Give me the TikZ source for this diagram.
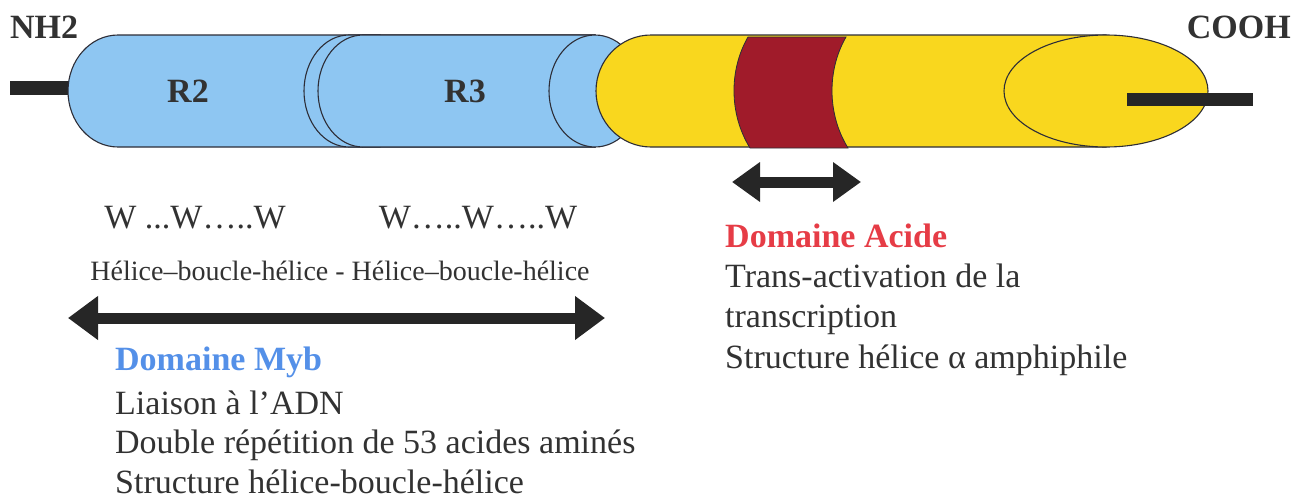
\documentclass[tikz,border=0pt]{standalone}
\usepackage{fontspec}
\setmainfont{Liberation Serif}
\usetikzlibrary{arrows.meta,positioning}
\definecolor{mybfill}{RGB}{142,198,242}
\definecolor{acfill}{RGB}{249,215,30}
\definecolor{redband}{RGB}{160,27,42}
\definecolor{mybtext}{RGB}{84,144,232}
\definecolor{actext}{RGB}{230,60,70}
\definecolor{txtgray}{RGB}{50,50,50}
\definecolor{outline}{RGB}{45,45,55}
\begin{document}
\begin{tikzpicture}[x=1pt, y=-1pt,
    every node/.style={font=\fontsize{34}{40}\selectfont, text=txtgray, inner sep=0pt},
    hdr/.style={font=\fontsize{34}{40}\selectfont\bfseries},
    txtline/.style={text height=24pt, text depth=8pt},
    smalltxt/.style={font=\fontsize{28}{32}\selectfont},
    segblue/.style={fill=mybfill, draw=outline, line width=1.1pt},
    segyellow/.style={fill=acfill, draw=outline, line width=1.1pt},
    stub/.style={fill=black!85},
    dblarrow/.style={{Triangle[length=30pt,width=42pt]}-{Triangle[length=30pt,width=42pt]}, line width=11pt, black!85}]
  \useasboundingbox (0,0) rectangle (1307,498);
  % terminal stubs and domains
  \fill[stub] (10,81) rectangle (75,95);
  \filldraw[segblue] (118,35) arc[start angle=270, end angle=90, x radius=50, y radius=56] -- (380,147) -- (380,35) -- cycle;
  \filldraw[segblue] (349,35) arc[start angle=270, end angle=90, x radius=45, y radius=56] -- (595,147) -- (595,35) -- cycle;
  \filldraw[segblue] (363,35) arc[start angle=270, end angle=90, x radius=45, y radius=56] -- (595,147) -- (595,35) -- cycle;
  \filldraw[segblue] (595,91) ellipse[x radius=46, y radius=56];
  \filldraw[segyellow] (651,35) arc[start angle=270, end angle=90, x radius=55, y radius=56] -- (1106,147) -- (1106,35) -- cycle;
  \filldraw[fill=redband, draw=outline, line width=0.8pt] (748,37) -- (846,37) .. controls (827,70) and (827,114) .. (848,148) -- (750,148) .. controls (729,114) and (729,70) .. (748,37) -- cycle;
  \filldraw[segyellow] (1106,91) ellipse[x radius=102, y radius=56];
  \fill[stub] (1127,93) rectangle (1253,106);
  % labels
  \node[hdr, anchor=base west] (nh2) at (10,38) {NH2};
  \node[hdr, anchor=base east] (cooh) at (1291,38) {COOH};
  \node[hdr, anchor=base] (r2) at (188,102) {R2};
  \node[hdr, anchor=base] (r3) at (465,102) {R3};
  \node[anchor=base] (wr2) at (195,228) {W ...W…..W};
  \node[anchor=base] (wr3) at (478,228) {W…..W…..W};
  \node[smalltxt, anchor=base] (hbh) at (340,280) {Hélice–boucle-hélice - Hélice–boucle-hélice};
  % arrows
  \coordinate (mybl) at (68,318);
  \coordinate (mybr) at (605,318);
  \coordinate (acl) at (732,182);
  \coordinate (acr) at (861,182);
  \draw[dblarrow] (mybl) -- (mybr);
  \draw[dblarrow, {Triangle[length=28pt,width=38pt]}-{Triangle[length=28pt,width=38pt]}] (acl) -- (acr);
  % Myb domain
  \node[hdr, txtline, text=mybtext, anchor=base west] (myb) at (115,370) {Domaine Myb};
  \node[txtline, below=12pt of myb.south west, anchor=north west] (myb1) {Liaison à l’ADN};
  \node[txtline, below=7pt of myb1.south west, anchor=north west] (myb2) {Double répétition de 53 acides aminés};
  \node[txtline, text depth=1pt, below=7pt of myb2.south west, anchor=north west] (myb3) {Structure hélice-boucle-hélice};
  % acidic domain
  \node[hdr, txtline, text=actext, anchor=base west] (acide) at (725,247) {Domaine Acide};
  \node[txtline, below=8pt of acide.south west, anchor=north west] (ac1) {Trans-activation de la};
  \node[txtline, below=8pt of ac1.south west, anchor=north west] (ac2) {transcription};
  \node[txtline, below=8pt of ac2.south west, anchor=north west] (ac3) {Structure hélice α amphiphile};
\end{tikzpicture}
\end{document}
